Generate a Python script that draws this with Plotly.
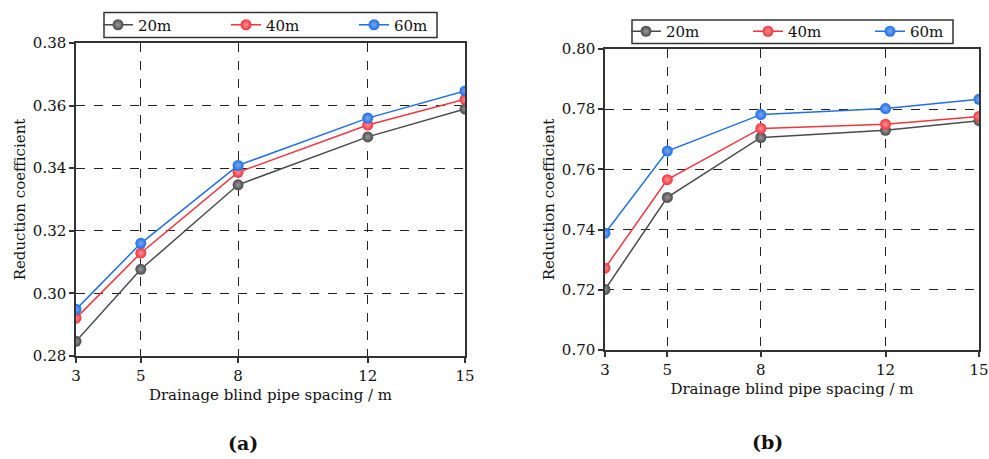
import plotly.graph_objects as go

spacing = [3, 5, 8, 12, 15]
series_names = ["20m", "40m", "60m"]

a_20m = [0.2847, 0.3077, 0.3347, 0.3500, 0.3589]
a_40m = [0.2921, 0.3129, 0.3387, 0.3538, 0.3620]
a_60m = [0.2949, 0.3160, 0.3409, 0.3560, 0.3647]

b_20m = [0.7201, 0.7507, 0.7706, 0.7730, 0.7762]
b_40m = [0.7272, 0.7566, 0.7736, 0.7750, 0.7776]
b_60m = [0.7388, 0.7661, 0.7782, 0.7802, 0.7833]

y_ticks_a = [0.28, 0.30, 0.32, 0.34, 0.36, 0.38]
y_ticks_b = [0.70, 0.72, 0.74, 0.76, 0.78, 0.80]

line_colors = ["#4a4a4a", "#f0353d", "#1f6fe6"]
highlight = ["#9a9a9a", "#ff8f94", "#79a9f5"]

FONT = "DejaVu Serif"
FS = 15

fig = go.Figure()

def add_series(data, xa, ya, legend, widths):
    for i, (name, vals) in enumerate(zip(series_names, data)):
        fig.add_trace(go.Scatter(
            x=spacing, y=vals, name=name, mode="lines+markers",
            xaxis=xa, yaxis=ya, legend=legend,
            legendwidth=widths[i],
            line=dict(color=line_colors[i], width=1.5),
            marker=dict(size=11, color=line_colors[i],
                        gradient=dict(type="radial", color=highlight[i]),
                        line=dict(width=0)),
        ))

add_series([a_20m, a_40m, a_60m], "x", "y", "legend", [83, 83, None])
add_series([b_20m, b_40m, b_60m], "x2", "y2", "legend2", [77, 77, None])

W, H = 989, 459

def px_x(p):
    return p / W

def px_y(p):
    return 1 - p / H

axis_common = dict(
    showline=True, linecolor="#333333", linewidth=1.5, mirror=True,
    ticks="outside", ticklen=5, tickcolor="#333333", tickwidth=1.5,
    showgrid=True, gridcolor="#222222", griddash="dash", gridwidth=1,
    zeroline=False, automargin=False,
    tickfont=dict(family=FONT, size=FS, color="#111111"),
    title_font=dict(family=FONT, size=FS, color="#111111"),
)

legend_common = dict(
    orientation="h", xanchor="left", yanchor="middle",
    borderwidth=0, bgcolor="rgba(0,0,0,0)",
    font=dict(family=FONT, size=FS, color="#111111"),
    tracegroupgap=0, itemclick=False, itemdoubleclick=False,
)

fig.update_layout(
    width=W, height=H,
    margin=dict(l=0, r=0, t=0, b=0, autoexpand=False),
    paper_bgcolor="white", plot_bgcolor="white",
    font=dict(family=FONT, size=FS, color="#111111"),
    hovermode=False,
    xaxis=dict(domain=[px_x(76), px_x(465)], anchor="y", range=[3, 15],
               tickvals=spacing, title=dict(text="Drainage blind pipe spacing / m", standoff=6),
               **axis_common),
    yaxis=dict(domain=[px_y(356), px_y(43)], anchor="x", range=[0.28, 0.38],
               tickvals=y_ticks_a, tickformat=".2f",
               title=dict(text="Reduction coefficient", standoff=4),
               **axis_common),
    xaxis2=dict(domain=[px_x(605), px_x(979)], anchor="y2", range=[3, 15],
                tickvals=spacing, title=dict(text="Drainage blind pipe spacing / m", standoff=6),
                **axis_common),
    yaxis2=dict(domain=[px_y(350), px_y(49)], anchor="x2", range=[0.70, 0.80],
                tickvals=y_ticks_b, tickformat=".2f",
                title=dict(text="Reduction coefficient", standoff=4),
                **axis_common),
    legend=dict(x=px_x(98), y=px_y(25), **legend_common),
    legend2=dict(x=px_x(626), y=px_y(31.5), **legend_common),
    showlegend=True,
    shapes=[
        dict(type="rect", xref="paper", yref="paper",
             x0=px_x(104), x1=px_x(437), y0=px_y(37.5), y1=px_y(12.5),
             line=dict(color="#333333", width=1.5), fillcolor="rgba(0,0,0,0)", layer="above"),
        dict(type="rect", xref="paper", yref="paper",
             x0=px_x(632), x1=px_x(953), y0=px_y(43.5), y1=px_y(20),
             line=dict(color="#333333", width=1.5), fillcolor="rgba(0,0,0,0)", layer="above"),
    ],
    annotations=[
        dict(text="<b>(a)</b>", x=px_x(243), y=px_y(443), xref="paper", yref="paper",
             showarrow=False, font=dict(family=FONT, size=19, color="#111111"),
             xanchor="center", yanchor="middle"),
        dict(text="<b>(b)</b>", x=px_x(767), y=px_y(442), xref="paper", yref="paper",
             showarrow=False, font=dict(family=FONT, size=19, color="#111111"),
             xanchor="center", yanchor="middle"),
    ],
)

fig.write_html("out.html", config={"displayModeBar": False},
               post_script="document.body.style.margin='0';document.body.style.padding='0';")
